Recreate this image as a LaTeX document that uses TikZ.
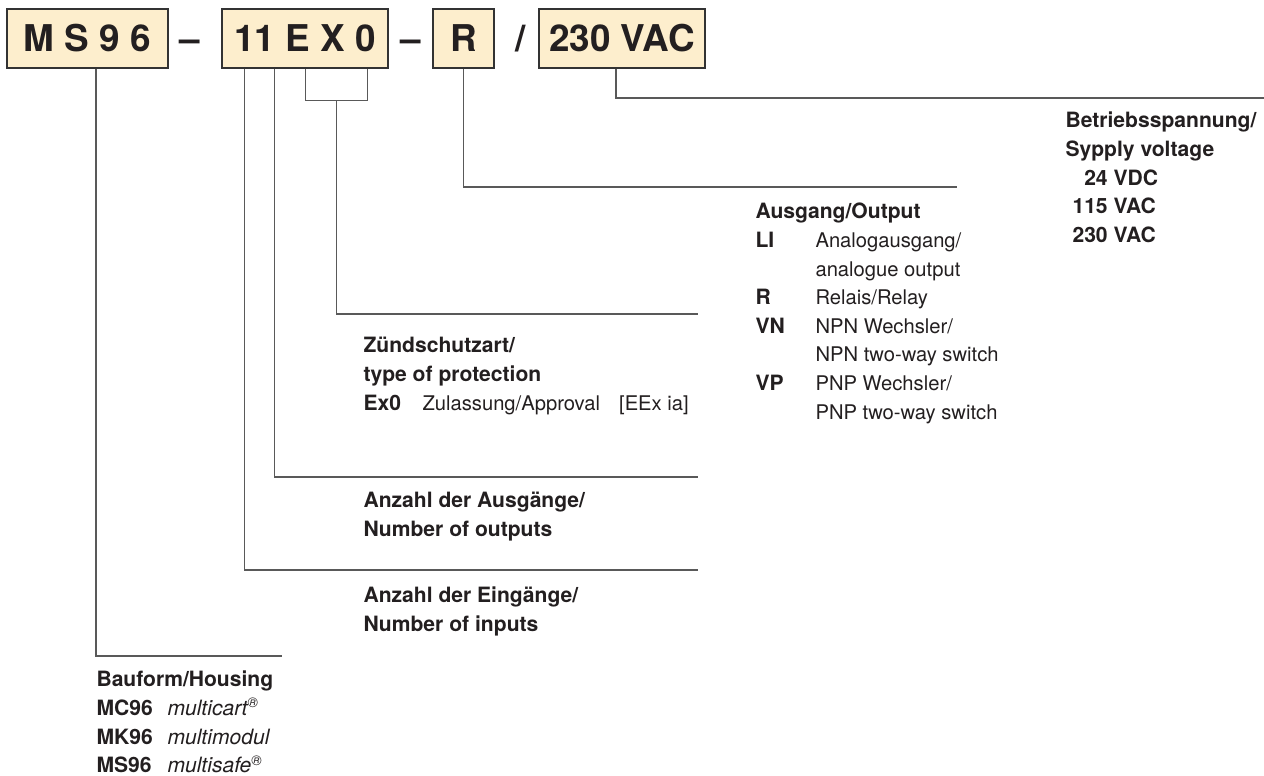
\documentclass[tikz,border=0pt]{standalone}
\usepackage{fontspec}
\setmainfont{TeX Gyre Heros}
\usetikzlibrary{calc,positioning}
\definecolor{codefill}{RGB}{253,238,205}
\definecolor{textblack}{RGB}{35,31,32}
% Kuerzel mit fester Spaltenbreite, Erklaerung etwas kleiner
\newcommand{\kuerzel}[2][1.2cm]{\makebox[#1][l]{\textbf{#2}}}
\newcommand{\erkl}{\fontsize{11.5}{16.3}\selectfont}

\begin{document}
\begin{tikzpicture}[x=0.02cm, y=-0.02cm, line width=0.6pt,
  codebox/.style={draw=black!80, fill=codefill, minimum height=1.18cm, inner sep=0pt,
    font=\fontsize{21}{24}\selectfont\bfseries, text=textblack},
  trenner/.style={anchor=base, inner sep=0pt, font=\fontsize{21}{24}\selectfont\bfseries, text=textblack},
  legende/.style={anchor=base west, inner sep=0pt, align=left, font=\fontsize{12}{16.3}\selectfont, text=textblack},
  leitung/.style={draw=black!65}]
\useasboundingbox (0,0) rectangle (1264,776);

% Typenschluessel
\node[codebox, minimum width=3.22cm] (bauform) at (87.5,38.5) {M S 9 6};
\node[trenner] (t1) at (190,52) {--};
\node[codebox, minimum width=3.32cm] (typ) at (305,38.5) {11 E X 0};
\node[trenner] (t2) at (411,52) {--};
\node[codebox, minimum width=1.22cm] (ausg) at (463.5,38.5) {R};
\node[trenner] (t3) at (521,52) {/};
\node[codebox, minimum width=3.32cm] (volt) at (622,38.5) {230 VAC};

% Erlaeuterungen (Bezugspunkt: Grundlinie der letzten Zeile)
\node[legende, font=\fontsize{12}{16.3}\selectfont\bfseries] (spannung) at (1065,242.4)
  {Betriebsspannung/\\Sypply voltage\\\hspace*{0.14cm}\phantom{1}24 VDC\\\hspace*{0.14cm}115 VAC\\\hspace*{0.14cm}230 VAC};
\node[legende] (ausgang) at (755,419.2)
  {\textbf{Ausgang/Output}\\\kuerzel{LI}\erkl Analogausgang/\\\kuerzel{}\erkl analogue output\\\kuerzel{R}\erkl Relais/Relay\\
   \kuerzel{VN}\erkl NPN Wechsler/\\\kuerzel{}\erkl NPN two-way switch\\\kuerzel{VP}\erkl PNP Wechsler/\\\kuerzel{}\erkl PNP two-way switch};
\node[legende] (schutz) at (363,410.2)
  {\textbf{Zündschutzart/}\\\textbf{type of protection}\\\kuerzel[1.18cm]{Ex0}\erkl Zulassung/Approval\hspace{0.38cm}[EEx ia]};
\node[legende, font=\fontsize{12}{16.3}\selectfont\bfseries] (ausgaenge) at (363,536.6) {Anzahl der Ausgänge/\\Number of outputs};
\node[legende, font=\fontsize{12}{16.3}\selectfont\bfseries] (eingaenge) at (363,631.6) {Anzahl der Eingänge/\\Number of inputs};
\node[legende] (housing) at (96,772.8)
  {\textbf{Bauform/Housing}\\\kuerzel[1.42cm]{MC96}\textit{multicart\textsuperscript{®}}\\
   \kuerzel[1.42cm]{MK96}\textit{multimodul}\\\kuerzel[1.42cm]{MS96}\textit{multisafe\textsuperscript{®}}};

% Leitungen
\coordinate (housingend) at (282,656);
\coordinate (einend) at (698,570);
\coordinate (ausend) at (698,477);
\coordinate (exend) at (698,314);
\coordinate (rend) at (957,187);
\coordinate (voltend) at (1264,98);
\coordinate (ein) at ($(typ.south west)+(23,0)$);
\coordinate (aus) at ($(typ.south west)+(53,0)$);
\coordinate (exl) at ($(typ.south west)+(84,0)$);
\coordinate (exr) at ($(typ.south west)+(146,0)$);

\draw[leitung] (bauform.south -| housing.west) |- (housingend);
\draw[leitung] (ein) |- (einend);
\draw[leitung] (aus) |- (ausend);
\draw[leitung] (exl) -- ++(0,32) -| (exr);
\draw[leitung] ($(exl)!0.5!(exr)+(0,32)$) |- (exend);
\draw[leitung] (ausg.south) |- (rend);
\draw[leitung] ($(volt.south)+(-6,0)$) |- (voltend);
\end{tikzpicture}
\end{document}
